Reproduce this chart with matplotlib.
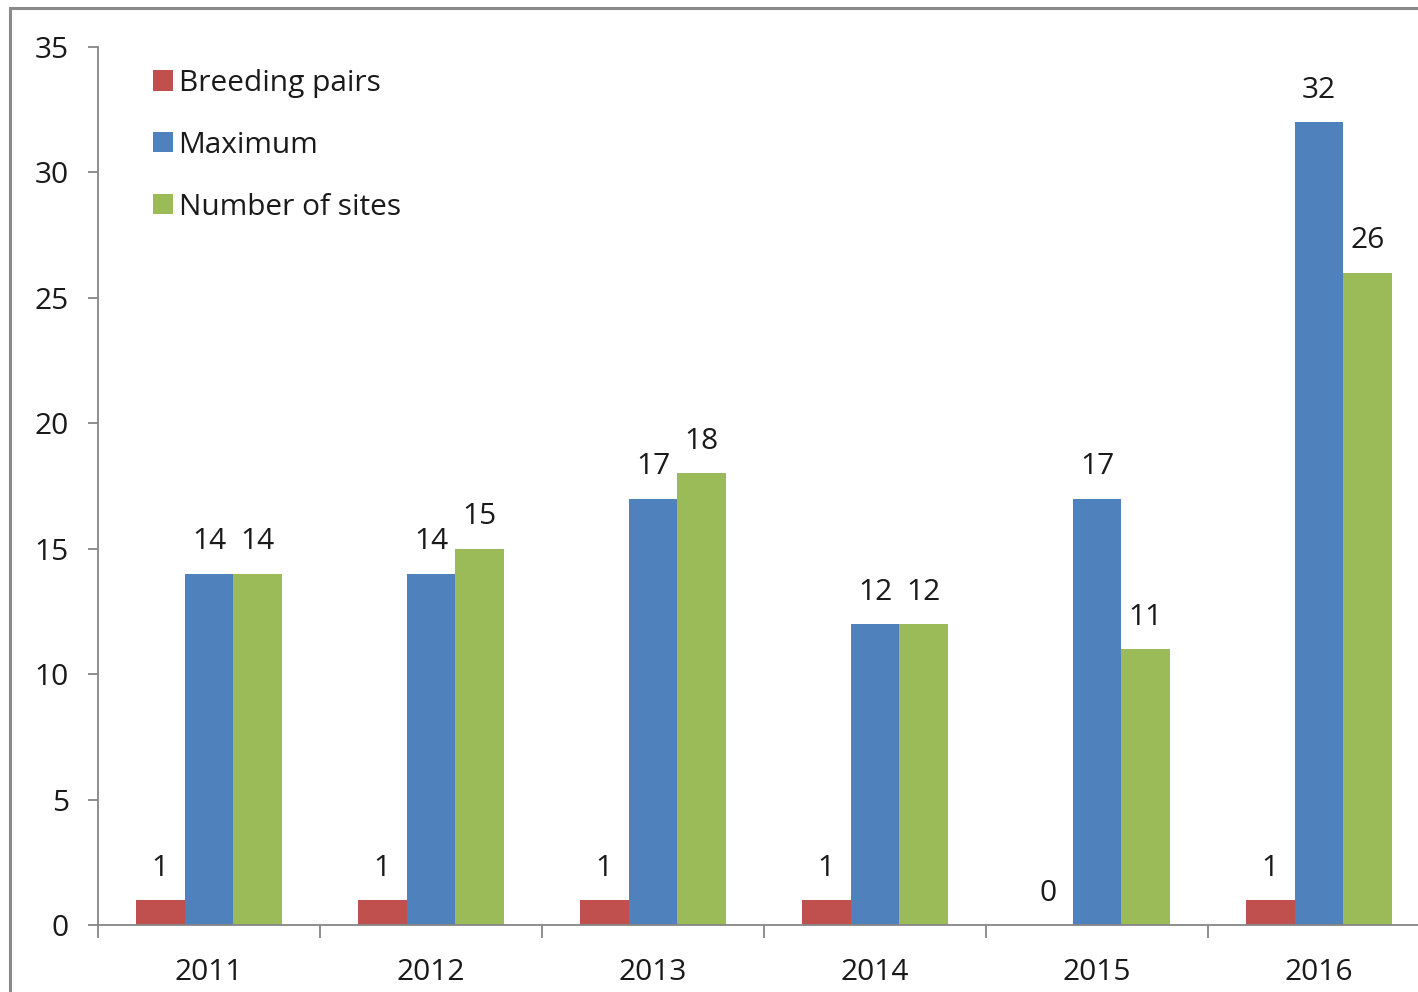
"""
Breeding pairs / maximum / number of sites per year.
"""
from matplotlib import pyplot as plt
import matplotlib.patches as patches
import numpy as np

years = ['2011', '2012', '2013', '2014', '2015', '2016']
breeding_pairs = [1, 1, 1, 1, 0, 1]
maximum = [14, 14, 17, 12, 17, 32]
number_of_sites = [14, 15, 18, 12, 11, 26]

series = [
    ('Breeding pairs', breeding_pairs, '#C0504D'),
    ('Maximum', maximum, '#4F81BD'),
    ('Number of sites', number_of_sites, '#9BBB59'),
]

plt.rcParams['font.family'] = ['Open Sans', 'DejaVu Sans']
axis_gray = '#868686'
text_color = '#1a1a1a'
fs = 21.5

fig = plt.figure(figsize=(14.18, 9.92), dpi=100)
# axes runs past the right edge, like the cropped original
ax = fig.add_axes([98 / 1418, 67 / 992, 1332 / 1418, 878 / 992])

x = np.arange(len(years))
bar_width = 0.219
for i, (label, values, color) in enumerate(series):
    offsets = x + (i - 1) * bar_width
    ax.bar(offsets, values, width=bar_width, color=color, label=label, linewidth=0)
    for xo, v in zip(offsets, values):
        ax.annotate(str(v), (xo, v), xytext=(0, 12.5), textcoords='offset points',
                    ha='center', va='bottom', fontsize=fs, color=text_color)

ax.set_xlim(-0.5, len(years) - 0.5)
ax.set_ylim(0, 35)
ax.set_yticks(range(0, 36, 5))
ax.set_xticks(x)
ax.set_xticklabels(years)
ax.set_xticks(np.arange(-0.5, len(years), 1), minor=True)

for side in ['top', 'right']:
    ax.spines[side].set_visible(False)
for side in ['left', 'bottom']:
    ax.spines[side].set_color(axis_gray)
    ax.spines[side].set_linewidth(1.3)

ax.tick_params(axis='y', direction='out', length=7, width=1.3, color=axis_gray,
               labelsize=fs, labelcolor=text_color, pad=14)
ax.tick_params(axis='x', which='major', length=0, labelsize=fs,
               labelcolor=text_color, pad=24)
ax.tick_params(axis='x', which='minor', direction='out', length=9, width=1.3,
               color=axis_gray)

ax.legend(loc='upper left', bbox_to_anchor=(138 / 1418, 1 - 54 / 992),
          bbox_transform=fig.transFigure, frameon=False, fontsize=fs,
          handlelength=0.66, handleheight=0.66, handletextpad=0.2,
          labelspacing=1.1, borderpad=0, labelcolor=text_color)

# outer chart frame (right/bottom edges fall outside the image)
frame = patches.Rectangle((10 / 1418, -0.1), 1.2, 1 - 8 / 992 + 0.1,
                          transform=fig.transFigure, fill=False,
                          edgecolor='#8a8a8a', linewidth=2.2)
fig.patches.append(frame)

plt.savefig('out.png', dpi=100)
